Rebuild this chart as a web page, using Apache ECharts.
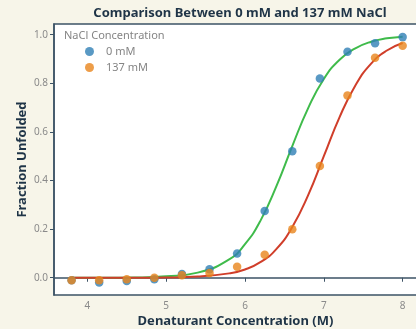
<!DOCTYPE html>
<html><head><meta charset="utf-8">
<script src="https://cdn.jsdelivr.net/npm/echarts@6/dist/echarts.min.js"></script>
<style>html,body{margin:0;padding:0;background:#f7f5e9;}#c{width:416px;height:329px;}</style>
</head><body><div id="c"></div>
<script>
// Measured points
const denaturant = [3.80, 4.15, 4.50, 4.85, 5.20, 5.55, 5.90, 6.25, 6.60, 6.95, 7.30, 7.65, 8.00];
const fu0mM   = [-0.010, -0.020, -0.013, -0.006, 0.015, 0.035, 0.100, 0.275, 0.520, 0.820, 0.930, 0.965, 0.990];
const fu137mM = [-0.010, -0.010, -0.006, 0.000, 0.010, 0.020, 0.045, 0.095, 0.200, 0.460, 0.750, 0.905, 0.955];
// Fitted curves
const fitX     = [3.8, 4.2, 4.6, 5.0, 5.4, 5.8, 6.0, 6.2, 6.4, 6.6, 6.8, 7.0, 7.2, 7.4, 7.6, 7.8, 8.0];
const fit0mM   = [0.000, 0.000, 0.001, 0.006, 0.021, 0.076, 0.138, 0.237, 0.378, 0.542, 0.697, 0.818, 0.897, 0.944, 0.971, 0.985, 0.992];
const fit137mM = [0.000, 0.000, 0.000, 0.001, 0.005, 0.018, 0.034, 0.065, 0.119, 0.209, 0.339, 0.500, 0.661, 0.791, 0.881, 0.935, 0.966];
const xTicks = [4, 5, 6, 7, 8];
const yTicks = [0, 0.2, 0.4, 0.6, 0.8, 1.0];
const seriesNames = ['0 mM', '137 mM'];

const zip = (a, b) => a.map((v, i) => [v, b[i]]);
const axisCol = '#3d5366';
const chart = echarts.init(document.getElementById('c'), null, {renderer: 'canvas'});
chart.setOption({
  backgroundColor: '#f7f5e9',
  animation: false,
  title: {
    text: 'Comparison Between 0 mM and 137 mM NaCl',
    left: 235, top: 2, textAlign: 'center',
    textStyle: {fontFamily: 'Noto Sans', fontWeight: 'bold', fontSize: 13, color: '#1f3447'}
  },
  graphic: [{
    type: 'text', left: 64, top: 30,
    style: {text: 'NaCl Concentration', fontFamily: 'Noto Sans', fontSize: 11, fill: '#858585'}
  }],
  legend: {
    data: seriesNames, orient: 'vertical', left: 85, top: 46, padding: 0,
    icon: 'circle', itemWidth: 9, itemHeight: 9, itemGap: 5,
    textStyle: {fontFamily: 'Noto Sans', fontSize: 11, color: '#858585', padding: [0, 0, 0, 7]}
  },
  grid: {left: 54, right: -1, top: 24, bottom: 34, outerBoundsMode: 'none', containLabel: false,
         show: true, backgroundColor: '#ffffff', borderWidth: 1.5, borderColor: axisCol},
  xAxis: {
    type: 'value', min: 3.577, max: 8.182,
    name: 'Denaturant Concentration (M)', nameLocation: 'middle', nameGap: 20, nameMoveOverlap: false,
    nameTextStyle: {fontFamily: 'Noto Sans', fontWeight: 'bold', fontSize: 13, color: '#1f3447'},
    axisLine: {lineStyle: {color: axisCol, width: 1.5}},
    axisTick: {show: true, length: 4, customValues: xTicks, lineStyle: {color: axisCol}},
    axisLabel: {customValues: xTicks, fontFamily: 'Noto Sans', fontSize: 10, color: '#8a8a8a', margin: 6},
    splitLine: {show: false}
  },
  yAxis: {
    type: 'value', min: -0.071, max: 1.044,
    name: 'Fraction Unfolded', nameLocation: 'middle', nameGap: 25, nameRotate: 90, nameMoveOverlap: false,
    nameTextStyle: {fontFamily: 'Noto Sans', fontWeight: 'bold', fontSize: 13, color: '#1f3447'},
    axisLine: {show: true, lineStyle: {color: axisCol, width: 1.5}},
    axisTick: {show: true, length: 4, customValues: yTicks, lineStyle: {color: axisCol}},
    axisLabel: {customValues: yTicks, formatter: v => v.toFixed(1), fontFamily: 'Noto Sans', fontSize: 10, color: '#8a8a8a', margin: 6},
    splitLine: {show: false}
  },
  series: [
    {type: 'line', data: zip(fitX, fit0mM), smooth: true, showSymbol: false, lineStyle: {color: '#3fbb4b', width: 2}, z: 2, silent: true},
    {type: 'line', data: zip(fitX, fit137mM), smooth: true, showSymbol: false, lineStyle: {color: '#d03e2a', width: 2}, z: 3, silent: true},
    {name: seriesNames[0], type: 'scatter', data: zip(denaturant, fu0mM), symbolSize: 8.5, itemStyle: {color: '#2f80b5'}, z: 4},
    {name: seriesNames[1], type: 'scatter', data: zip(denaturant, fu137mM), symbolSize: 8.5, itemStyle: {color: '#e8851c'}, z: 5}
  ]
});
</script></body></html>
